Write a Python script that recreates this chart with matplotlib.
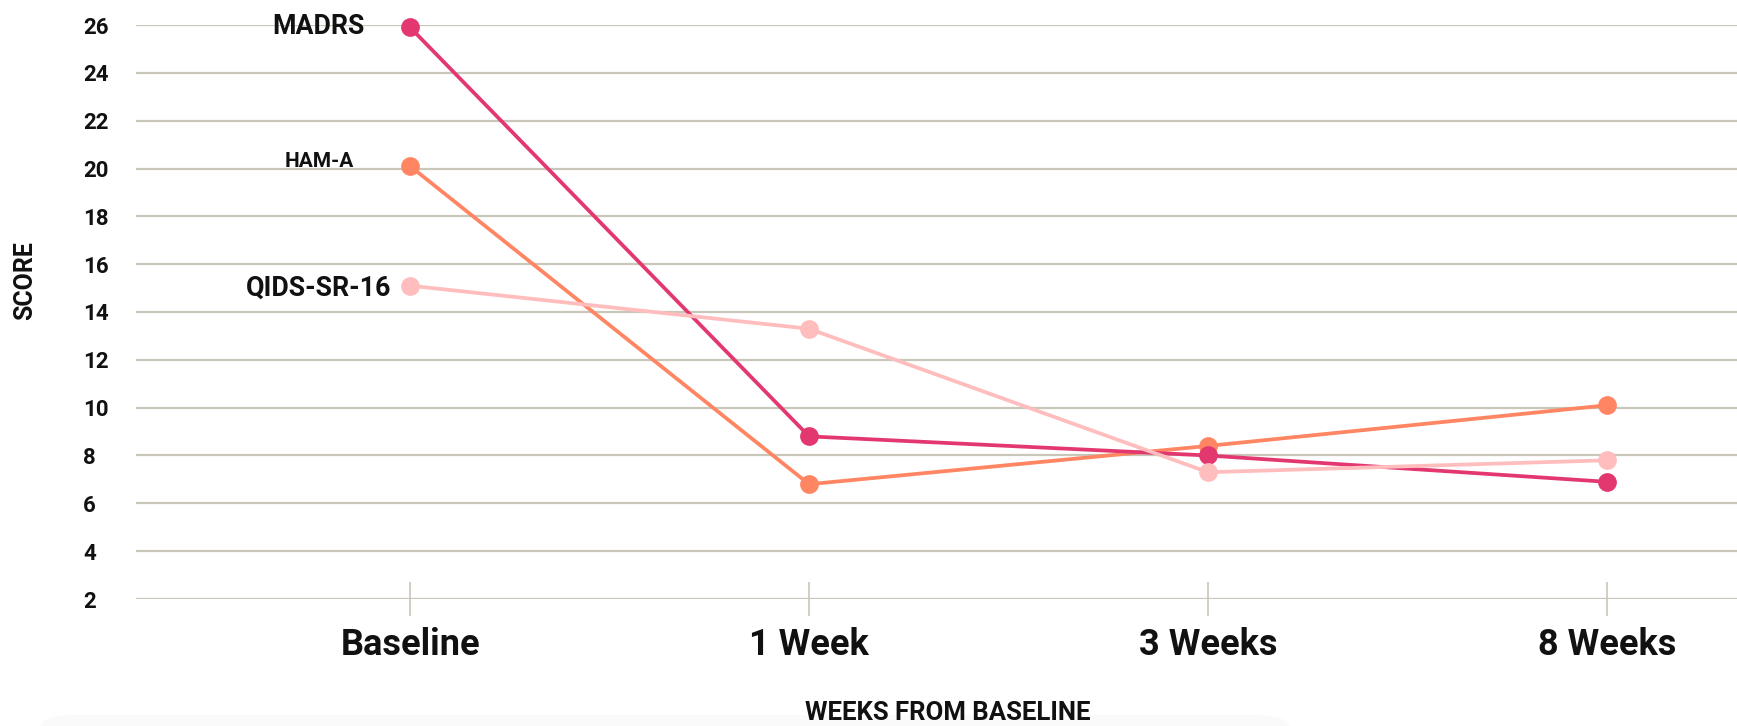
import matplotlib
matplotlib.use("Agg")
import matplotlib.pyplot as plt
from matplotlib.patches import FancyBboxPatch

# Data
timepoints = ["Baseline", "1 Week", "3 Weeks", "8 Weeks"]
madrs = [25.9, 8.8, 8.0, 6.9]
ham_a = [20.1, 6.8, 8.4, 10.1]
qids_sr16 = [15.1, 13.3, 7.3, 7.8]
y_ticks = [2, 4, 6, 8, 10, 12, 14, 16, 18, 20, 22, 24, 26]

C_MADRS = "#e3386f"
C_HAMA = "#ff8563"
C_QIDS = "#ffbdbd"
GRID = "#c9c6ba"

plt.rcParams["font.family"] = ["Roboto", "DejaVu Sans"]
plt.rcParams["font.weight"] = "bold"

fig = plt.figure(figsize=(17.37, 7.26), dpi=100)
ax = fig.add_axes([136 / 1737, 1 - 599 / 726, 1 - 136 / 1737, (599 - 25) / 726])

x = list(range(len(timepoints)))

series = [
    ("HAM-A", ham_a, C_HAMA, 15, (-56, -1)),
    ("MADRS", madrs, C_MADRS, 19.3, (-45, -7)),
    ("QIDS-SR-16", qids_sr16, C_QIDS, 19.3, (-19, -10)),
]

for i, (name, vals, color, fs, off) in enumerate(series):
    ax.plot(x, vals, color=color, lw=2.7, marker="o", markersize=13.5,
            markeredgewidth=0, clip_on=False, zorder=3 + i, solid_capstyle="round")

for name, vals, color, fs, off in series:
    ax.annotate(name, xy=(0, vals[0]), xytext=off, textcoords="offset pixels",
                ha="right", va="baseline", fontsize=fs, fontweight="bold",
                color="#111111", zorder=10)

ax.set_xlim(-0.687, 3.326)
ax.set_ylim(2, 26)
ax.set_yticks(y_ticks)
ax.set_yticklabels([str(v) for v in y_ticks])
ax.set_xticks(x)
ax.set_xticklabels(timepoints)

for s in ax.spines.values():
    s.set_visible(False)

ax.grid(axis="y", color=GRID, lw=1.6, zorder=0)
ax.set_axisbelow(True)

ax.tick_params(axis="y", length=0, pad=38.2, labelsize=16, labelcolor="#111111")
for lab in ax.get_yticklabels():
    lab.set_horizontalalignment("left")
    lab.set_fontweight("bold")

ax.tick_params(axis="x", direction="inout", length=25, width=1.2, color=GRID,
               pad=8, labelsize=26, labelcolor="#111111")
for lab in ax.get_xticklabels():
    lab.set_fontweight("bold")

fig.text(25 / 1737, 1 - 281 / 726, "SCORE", rotation=90, ha="center", va="center",
         fontsize=18, fontweight="bold", color="#111111")
fig.text(948 / 1737, 1 - 713 / 726, "WEEKS FROM BASELINE", ha="center", va="center",
         fontsize=18.5, fontweight="bold", color="#111111")

# faint footer band
fig.patches.append(FancyBboxPatch((40 / 1737, -0.02), 1250 / 1737, 0.035,
                                  boxstyle="round,pad=0,rounding_size=0.02",
                                  transform=fig.transFigure, facecolor="#fafafa",
                                  edgecolor="none", zorder=-1))

fig.savefig("out.png", dpi=100)
